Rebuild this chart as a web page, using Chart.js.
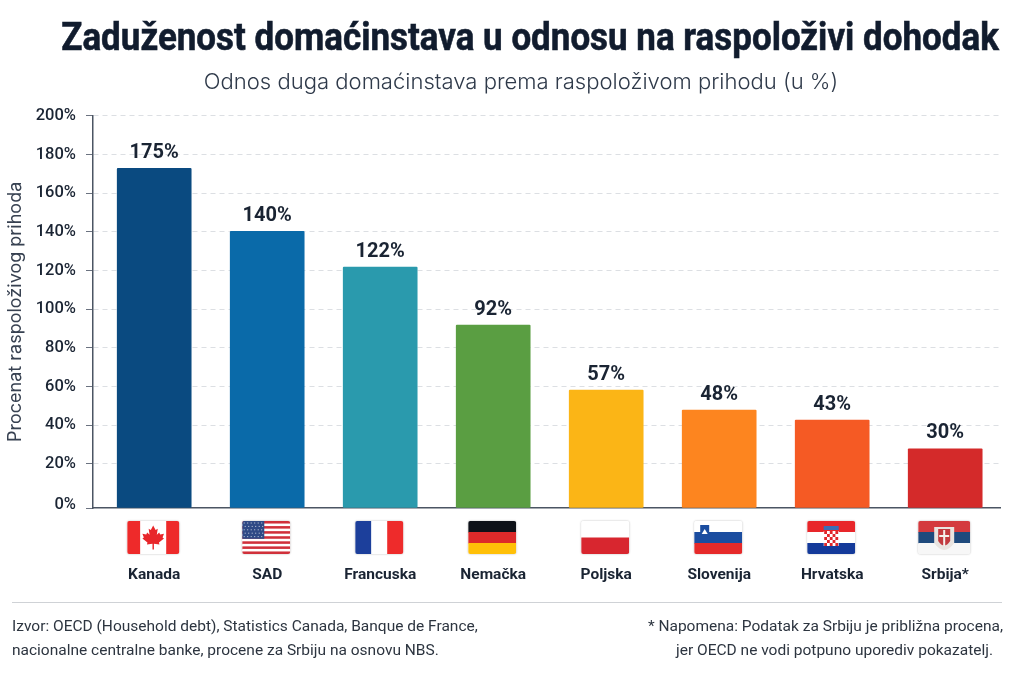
<!DOCTYPE html>
<html>
<head>
<meta charset="utf-8">
<title>Zaduženost domaćinstava</title>
<script src="https://cdn.jsdelivr.net/npm/chart.js@4"></script>
<style>
html, body { margin: 0; padding: 0; background: #fff; }
#wrap { position: relative; width: 1024px; height: 683px; overflow: hidden; }
canvas { position: absolute; left: 0; top: 0; }
.txt { position: absolute; white-space: nowrap; }
#title { left: 0; width: 1060px; top: 13px; text-align: center; font: 700 39.5px Roboto, sans-serif; color: #111c2e; -webkit-text-stroke: 0.6px #111c2e; transform: scaleX(0.885); transform-origin: 530px 0; }
#subtitle { left: 0; width: 1042px; top: 68px; text-align: center; font: 300 22.05px Inter, sans-serif; color: #2f3a4a; }
#rule { position: absolute; left: 12px; width: 990px; top: 602px; height: 1px; background: #cfd2d6; }
.foot { font: 400 15.5px Roboto, sans-serif; color: #2d3540; }
</style>
</head>
<body>
<div id="wrap">
  <canvas id="debtChart" width="1024" height="683"></canvas>
  <div class="txt" id="title">Zaduženost domaćinstava u odnosu na raspoloživi dohodak</div>
  <div class="txt" id="subtitle">Odnos duga domaćinstava prema raspoloživom prihodu (u %)</div>
  <div id="rule"></div>
  <div class="txt foot" style="left:12px;top:617px">Izvor: OECD (Household debt), Statistics Canada, Banque de France,</div>
  <div class="txt foot" style="left:12px;top:641px">nacionalne centralne banke, procene za Srbiju na osnovu NBS.</div>
  <div class="txt foot" style="right:21px;top:617px">* Napomena: Podatak za Srbiju je približna procena,</div>
  <div class="txt foot" style="right:31px;top:641px">jer OECD ne vodi potpuno uporediv pokazatelj.</div>
</div>
<script>
// Data
const categories = ['Kanada', 'SAD', 'Francuska', 'Nemačka', 'Poljska', 'Slovenija', 'Hrvatska', 'Srbija*'];
const barValues = [172.8, 140.3, 121.8, 91.8, 58.2, 47.9, 42.7, 27.9];
const barLabels = ['175%', '140%', '122%', '92%', '57%', '48%', '43%', '30%'];
const barColors = ['#0a4a80', '#0a6aa9', '#2a9aad', '#5a9e42', '#fbb516', '#fd851f', '#f55a24', '#d42a2a'];
const yTicks = [0, 20, 40, 60, 80, 100, 120, 140, 160, 180, 200];
const flagCodes = ['ca', 'us', 'fr', 'de', 'pl', 'si', 'hr', 'rs'];

const TEXT = '#1a2433';
const AXIS_MIN = -2.74; // the axis line sits a little under the 0% label
const ZERO_LABEL_AT = -1.2; // 0% label is drawn just above the axis line

// flag helpers
function stripes(c, x, y, w, h, cols, vertical) {
  cols.forEach(function(col, i) {
    c.fillStyle = col;
    if (vertical) c.fillRect(x + w * i / cols.length, y, w / cols.length + 0.5, h);
    else c.fillRect(x, y + h * i / cols.length, w, h / cols.length + 0.5);
  });
}

function mapleLeaf(c, cx, cy, s) {
  const pts = [[0,-1],[0.2,-0.62],[0.38,-0.72],[0.3,-0.22],[0.5,-0.42],[0.58,-0.26],[0.9,-0.32],[0.78,0],[0.9,0.08],[0.48,0.42],[0.52,0.58],[0.06,0.52],[0.06,1],[-0.06,1],[-0.06,0.52],[-0.52,0.58],[-0.48,0.42],[-0.9,0.08],[-0.78,0],[-0.9,-0.32],[-0.58,-0.26],[-0.5,-0.42],[-0.3,-0.22],[-0.38,-0.72],[-0.2,-0.62]];
  c.beginPath();
  pts.forEach(function(p, i) {
    if (i === 0) c.moveTo(cx + p[0] * s, cy + p[1] * s);
    else c.lineTo(cx + p[0] * s, cy + p[1] * s);
  });
  c.closePath();
  c.fillStyle = '#e8262a';
  c.fill();
}

function drawFlag(c, code, cx, y, h) {
  const w = (code === 'ca' || code === 'rs') ? 52 : 48;
  const x = cx - w / 2;
  c.save();
  c.shadowColor = 'rgba(0,0,0,0.3)';
  c.shadowBlur = 2;
  c.fillStyle = '#fff';
  c.beginPath();
  c.roundRect(x, y, w, h, 2);
  c.fill();
  c.restore();
  c.save();
  c.beginPath();
  c.roundRect(x, y, w, h, 2);
  c.clip();
  if (code === 'ca') {
    stripes(c, x, y, w, h, ['#ee2a2a', '#ffffff', '#ffffff', '#ee2a2a'], true);
    mapleLeaf(c, cx, y + h / 2, 12);
  } else if (code === 'us') {
    const cols = [];
    for (let i = 0; i < 13; i++) cols.push(i % 2 ? '#ffffff' : '#d0303a');
    stripes(c, x, y, w, h, cols, false);
    c.fillStyle = '#2f4a86';
    c.fillRect(x, y, w * 0.46, h * 0.54);
    c.fillStyle = 'rgba(255,255,255,0.75)';
    for (let r = 0; r < 5; r++) {
      for (let k = 0; k < 6; k++) c.fillRect(x + 1.5 + k * 3.5 + (r % 2), y + 1.5 + r * 3.4, 1, 1);
    }
  } else if (code === 'fr') {
    stripes(c, x, y, w, h, ['#1c3f9b', '#ffffff', '#ee2b2b'], true);
  } else if (code === 'de') {
    stripes(c, x, y, w, h, ['#0d1118', '#dd2a2a', '#ffc008'], false);
  } else if (code === 'pl') {
    stripes(c, x, y, w, h, ['#ffffff', '#d8262f'], false);
  } else if (code === 'si') {
    stripes(c, x, y, w, h, ['#ffffff', '#1b4da0', '#e62a2a'], false);
    c.fillStyle = '#1b4da0';
    c.beginPath();
    c.moveTo(x + 6, y + 4);
    c.lineTo(x + 15, y + 4);
    c.lineTo(x + 15, y + 13);
    c.quadraticCurveTo(x + 10.5, y + 19, x + 6, y + 13);
    c.closePath();
    c.fill();
    c.fillStyle = '#ffffff';
    c.beginPath();
    c.moveTo(x + 7.5, y + 13);
    c.lineTo(x + 10.5, y + 8);
    c.lineTo(x + 13.5, y + 13);
    c.closePath();
    c.fill();
  } else if (code === 'hr') {
    stripes(c, x, y, w, h, ['#e8262a', '#ffffff', '#143a9a'], false);
    c.fillStyle = '#fff';
    c.fillRect(cx - 7.5, y + 10, 15, 15);
    c.fillStyle = '#e0272c';
    for (let r = 0; r < 5; r++) {
      for (let k = 0; k < 5; k++) {
        if ((r + k) % 2 === 0) c.fillRect(cx - 7 + k * 2.8, y + 10 + r * 3, 2.8, 3);
      }
    }
    c.fillStyle = '#3a6fb5';
    c.fillRect(cx - 7.5, y + 5, 15, 4);
  } else if (code === 'rs') {
    stripes(c, x, y, w, h, ['#d43a3e', '#1f4a7d', '#f7f7f7'], false);
    c.fillStyle = '#e9e4e0';
    c.beginPath();
    c.moveTo(cx - 10, y + 6);
    c.lineTo(cx + 10, y + 6);
    c.lineTo(cx + 10, y + 22);
    c.quadraticCurveTo(cx, y + 36, cx - 10, y + 22);
    c.closePath();
    c.fill();
    c.fillStyle = '#c23a3e';
    c.beginPath();
    c.moveTo(cx - 6, y + 8);
    c.lineTo(cx + 6, y + 8);
    c.lineTo(cx + 6, y + 20);
    c.quadraticCurveTo(cx, y + 29, cx - 6, y + 20);
    c.closePath();
    c.fill();
    c.fillStyle = '#f4f0ec';
    c.fillRect(cx - 1, y + 9, 2, 16);
    c.fillRect(cx - 5, y + 14, 10, 2);
  }
  c.restore();
}

// value labels over the bars and flags under the axis
const extrasPlugin = {
  id: 'extras',
  afterDatasetsDraw: function(chart) {
    const c = chart.ctx;
    const meta = chart.getDatasetMeta(0);
    c.save();
    c.font = '700 20px Roboto, sans-serif';
    c.fillStyle = TEXT;
    c.textAlign = 'center';
    c.textBaseline = 'middle';
    meta.data.forEach(function(bar, i) {
      c.fillText(barLabels[i], bar.x, bar.y - 15.5);
    });
    c.restore();
    flagCodes.forEach(function(code, i) {
      drawFlag(c, code, chart.scales.x.getPixelForValue(i) - 1, 521, 33);
    });
  }
};

const debtChart = new Chart(document.getElementById('debtChart').getContext('2d'), {
  type: 'bar',
  data: {
    labels: categories,
    datasets: [{
      data: categories.map(function(name, i) { return { x: i, y: barValues[i] }; }),
      backgroundColor: barColors,
      base: AXIS_MIN,
      barThickness: 74,
      borderRadius: 1,
      borderSkipped: false
    }]
  },
  plugins: [extrasPlugin],
  options: {
    responsive: false,
    animation: false,
    devicePixelRatio: 1,
    layout: { padding: { top: 115.7, right: 24, bottom: 0, left: 0 } },
    plugins: { legend: { display: false }, tooltip: { enabled: false } },
    scales: {
      x: {
        type: 'linear',
        offset: false,
        min: -0.5416,
        max: 7.485,
        afterBuildTicks: function(axis) { axis.ticks = categories.map(function(n, i) { return { value: i }; }); },
        afterFit: function(axis) { axis.height = 175; },
        grid: { display: false },
        border: { color: '#4b5563', width: 1.5 },
        ticks: {
          autoSkip: false,
          maxRotation: 0,
          padding: 50,
          color: TEXT,
          font: { family: 'Roboto, sans-serif', size: 15.5, weight: '700' },
          callback: function(v) { return categories[v]; }
        }
      },
      y: {
        min: AXIS_MIN,
        max: 200,
        afterBuildTicks: function(axis) {
          axis.ticks = [{ value: AXIS_MIN }].concat(yTicks.map(function(v) { return { value: v === 0 ? ZERO_LABEL_AT : v }; }));
        },
        afterFit: function(axis) { axis.width = 93; },
        grid: {
          tickLength: 7,
          color: function(ctx) { return ctx.tick && ctx.tick.value > 0 ? '#dcdfe3' : 'rgba(0,0,0,0)'; },
          tickColor: function(ctx) { return ctx.tick && ctx.tick.value === ZERO_LABEL_AT ? 'rgba(0,0,0,0)' : '#6b7280'; },
          tickBorderDash: []
        },
        border: { color: '#4b5563', width: 1.5, dash: [5, 4] },
        title: {
          display: true,
          text: 'Procenat raspoloživog prihoda',
          color: '#374151',
          font: { family: 'Inter, sans-serif', size: 18 },
          padding: { top: 5, bottom: 0 }
        },
        ticks: {
          padding: 10,
          color: TEXT,
          font: { family: 'Roboto, sans-serif', size: 16.5, weight: '500' },
          callback: function(v) {
            if (v === AXIS_MIN) return '';
            return (v === ZERO_LABEL_AT ? 0 : v) + '%';
          }
        }
      }
    }
  }
});
</script>
</body>
</html>
